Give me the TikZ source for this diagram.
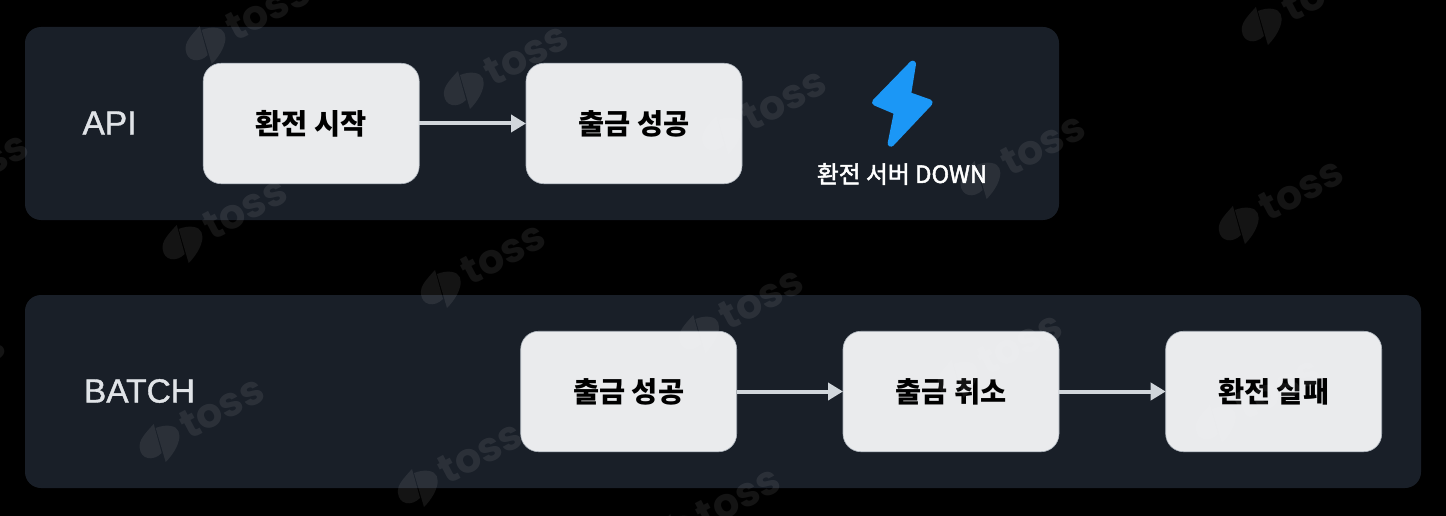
\documentclass[tikz,border=0pt]{standalone}
\usepackage{fontspec}
\setmainfont{Liberation Sans}
\newfontfamily\lblfont{Liberation Sans}
\newfontfamily\krfont{Noto Sans CJK KR}
\newfontfamily\wmfont{Poppins}
\usetikzlibrary{arrows.meta}
\newcommand{\heavier}[3]{\special{pdf:code #1 RG #2 w 2 Tr}#3\special{pdf:code 0 Tr}}
\definecolor{panelc}{HTML}{191F28}
\definecolor{boxc}{HTML}{EAEBED}
\definecolor{boxline}{HTML}{AEB5BD}
\definecolor{arrowc}{HTML}{D1D6DB}
\definecolor{boltc}{HTML}{1B97F6}
\definecolor{labelc}{HTML}{E0E3E7}
\tikzset{
  x=1pt,y=-1pt,
  panel/.style={fill=panelc,rounded corners=16pt,anchor=north west,inner sep=0pt,outer sep=0pt},
  stepbox/.style={fill=boxc,draw=boxline,line width=0.6pt,rounded corners=18pt,minimum width=216pt,minimum height=120.5pt,
    inner sep=0pt,outer sep=0pt,text=black,font=\krfont\bfseries\fontsize{28.4}{32}\selectfont},
  rowlabel/.style={text=labelc,inner sep=0pt,font=\lblfont\fontsize{33.5}{36}\selectfont},
  flow/.style={draw=arrowc,line width=4pt,-{Triangle[length=15pt,width=17pt]},shorten >=0pt},
  wmark/.style={fill=white,fill opacity=0.08},
  wmtext/.style={text=white,text opacity=0.08,inner sep=0pt,rotate=28,font=\wmfont\bfseries\fontsize{41}{42}\selectfont}
}
\begin{document}
\begin{tikzpicture}
\useasboundingbox (0,0) rectangle (1446,516);
\fill[black] (0,0) rectangle (1446,516);
\node[panel,minimum width=1034pt,minimum height=193pt] (panelA) at (25,27) {};
\node[panel,minimum width=1396pt,minimum height=193pt] (panelB) at (25,295) {};
\node[rowlabel] (api) at (109.5,123) {\heavier{0.878 0.89 0.906}{0.4}{API}};
\node[rowlabel] (batch) at (139.5,391) {\heavier{0.878 0.89 0.906}{0.4}{BATCH}};
\node[stepbox] (a1) at (311.2,123.5) {환전 시작};
\node[stepbox] (a2) at (634,123.5) {출금 성공};
\node[stepbox] (b1) at (628.7,391.5) {출금 성공};
\node[stepbox] (b2) at (951,391.5) {출금 취소};
\node[stepbox] (b3) at (1273.7,391.5) {환전 실패};
\draw[flow] (a1) -- (a2);
\draw[flow] (b1) -- (b2);
\draw[flow] (b2) -- (b3);
% lightning bolt
\begin{scope}[shift={(780,40)},x=0.3333pt,y=-0.3333pt]
\filldraw[fill=boltc,draw=boltc,line width=6.67pt,line join=round] (398,72) -- (383,165) -- (448,188) -- (333,310) -- (352,215) -- (286,187) -- cycle;
\end{scope}
\node[text=white,inner sep=0pt,font=\krfont\fontsize{23.8}{26}\selectfont] (down) at (902,174) {\heavier{1 1 1}{0.5}{환전 서버 DOWN}};
% watermark lattice
\begin{scope}
\clip (0,0) rectangle (1446,516);
\foreach \i in {-3,...,5}{
  \foreach \j in {-2,...,2}{
    \pgfmathsetmacro{\wx}{440+258.3*\i-23*\j}
    \pgfmathsetmacro{\wy}{288+45*\i+199*\j}
    \pgfmathtruncatemacro{\wshow}{(\wx>-110)&&(\wx<1470)&&(\wy>-15)&&(\wy<560)?1:0}
    \ifnum\wshow=1
    \begin{scope}[shift={(\wx,\wy)}]
      \fill[wmark] (-5,-18) .. controls (-14,-8) and (-20,-2) .. (-19,6) .. controls (-18,17) and (-6,20) .. (3,11) -- cycle;
      \fill[wmark] (-3,-14) .. controls (2,-16) and (8,-17) .. (12,-16) .. controls (20,-15) and (22,-8) .. (20,-1) .. controls (18,7) and (12,15) .. (7,20) -- cycle;
      \node[wmtext] (wm\i\j) at (63,-35) {toss};
    \end{scope}
    \fi
  }
}
\end{scope}
\end{tikzpicture}
\end{document}
